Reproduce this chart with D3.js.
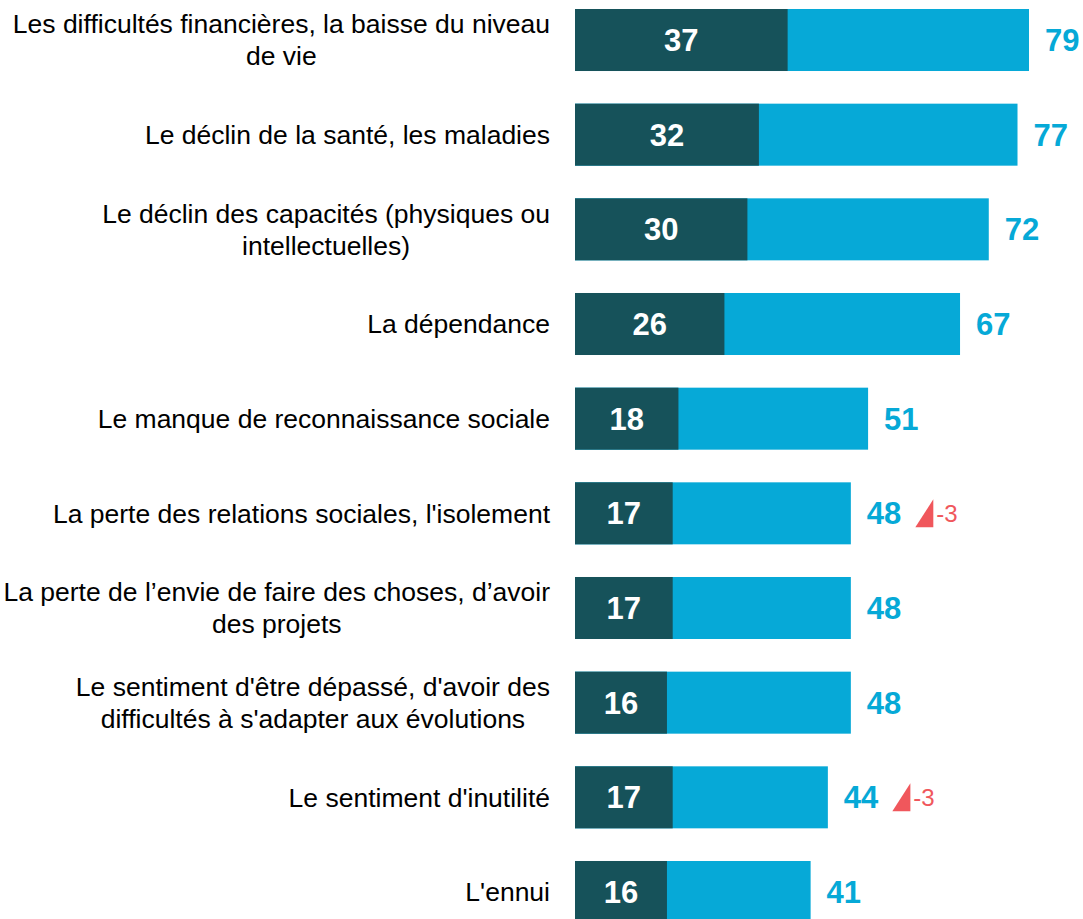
<!DOCTYPE html>
<html>
<head>
<meta charset="utf-8">
<script src="https://d3js.org/d3.v7.min.js"></script>
<style>
  body { margin: 0; background: #fff; font-family: "Liberation Sans", Arial, sans-serif; }
</style>
</head>
<body>
<svg></svg>
<script>
// data
var labels = [
  ["Les difficultés financières, la baisse du niveau", "de vie"],
  ["Le déclin de la santé, les maladies"],
  ["Le déclin des capacités (physiques ou", "intellectuelles)"],
  ["La dépendance"],
  ["Le manque de reconnaissance sociale"],
  ["La perte des relations sociales, l'isolement"],
  ["La perte de l\u2019envie de faire des choses, d\u2019avoir", "des projets"],
  ["Le sentiment d'être dépassé, d'avoir des", "difficultés à s'adapter aux évolutions"],
  ["Le sentiment d'inutilité"],
  ["L'ennui"]
];
var darkValues = [37, 32, 30, 26, 18, 17, 17, 16, 17, 16];
var totalValues = [79, 77, 72, 67, 51, 48, 48, 48, 44, 41];
var deltas = [null, null, null, null, null, -3, null, null, -3, null];

var W = 1083, H = 919;
var svg = d3.select('svg').attr('width', W).attr('height', H);

var x = d3.scaleLinear().domain([0, 79]).range([575, 1029]);
var y = d3.scaleBand().domain(d3.range(labels.length))
  .range([9, 923]).paddingInner(0.345).paddingOuter(0);

var rows = svg.selectAll('.row').data(labels).enter().append('g').attr('class', 'row');

// light bar (total)
rows.append('rect')
  .attr('x', x(0))
  .attr('y', function (d, i) { return y(i); })
  .attr('width', function (d, i) { return x(totalValues[i]) - x(0); })
  .attr('height', y.bandwidth())
  .attr('fill', '#06a9d7');

// dark bar
rows.append('rect')
  .attr('x', x(0))
  .attr('y', function (d, i) { return y(i); })
  .attr('width', function (d, i) { return x(darkValues[i]) - x(0); })
  .attr('height', y.bandwidth())
  .attr('fill', '#16525a');

// dark values
rows.append('text')
  .attr('x', function (d, i) { return (x(0) + x(darkValues[i])) / 2; })
  .attr('y', function (d, i) { return y(i) + y.bandwidth() / 2; })
  .attr('dy', '0.36em')
  .attr('text-anchor', 'middle')
  .attr('fill', '#fff')
  .style('font-size', '31px').style('font-weight', 'bold')
  .text(function (d, i) { return darkValues[i]; });

// total values
var tot = rows.append('text')
  .attr('x', function (d, i) { return x(totalValues[i]) + 16; })
  .attr('y', function (d, i) { return y(i) + y.bandwidth() / 2; })
  .attr('dy', '0.36em')
  .attr('fill', '#06a9d7')
  .style('font-size', '31px').style('font-weight', 'bold')
  .text(function (d, i) { return totalValues[i]; });

// deltas
tot.each(function (d, i) {
  if (deltas[i] === null) return;
  var end = x(totalValues[i]) + 16 + this.getComputedTextLength();
  var cy = y(i) + y.bandwidth() / 2;
  var g = d3.select(this.parentNode);
  var tx = end + 14;
  g.append('path')
    .attr('d', 'M' + tx + ',' + (cy + 14) + 'L' + (tx + 18) + ',' + (cy - 14) + 'L' + (tx + 18) + ',' + (cy + 14) + 'Z')
    .attr('fill', '#f0575c');
  g.append('text')
    .attr('x', tx + 21)
    .attr('y', cy)
    .attr('dy', '0.36em')
    .attr('fill', '#f0575c')
    .style('font-size', '24px')
    .text(deltas[i]);
});

// category labels
rows.each(function (d, i) {
  var g = d3.select(this);
  var cy = y(i) + y.bandwidth() / 2;
  var lh = 32;
  var top = cy - (d.length - 1) * lh / 2;
  var t = g.append('text')
    .attr('fill', '#000')
    .style('font-size', '26.5px');
  var spans = d.map(function (line, k) {
    return t.append('tspan').attr('y', top + k * lh).attr('dy', '0.35em').text(line);
  });
  var widths = spans.map(function (s) { return s.node().getComputedTextLength(); });
  var maxW = d3.max(widths);
  var center = 550 - maxW / 2;
  spans.forEach(function (s) {
    s.attr('x', center).attr('text-anchor', 'middle');
  });
});
</script>
</body>
</html>
